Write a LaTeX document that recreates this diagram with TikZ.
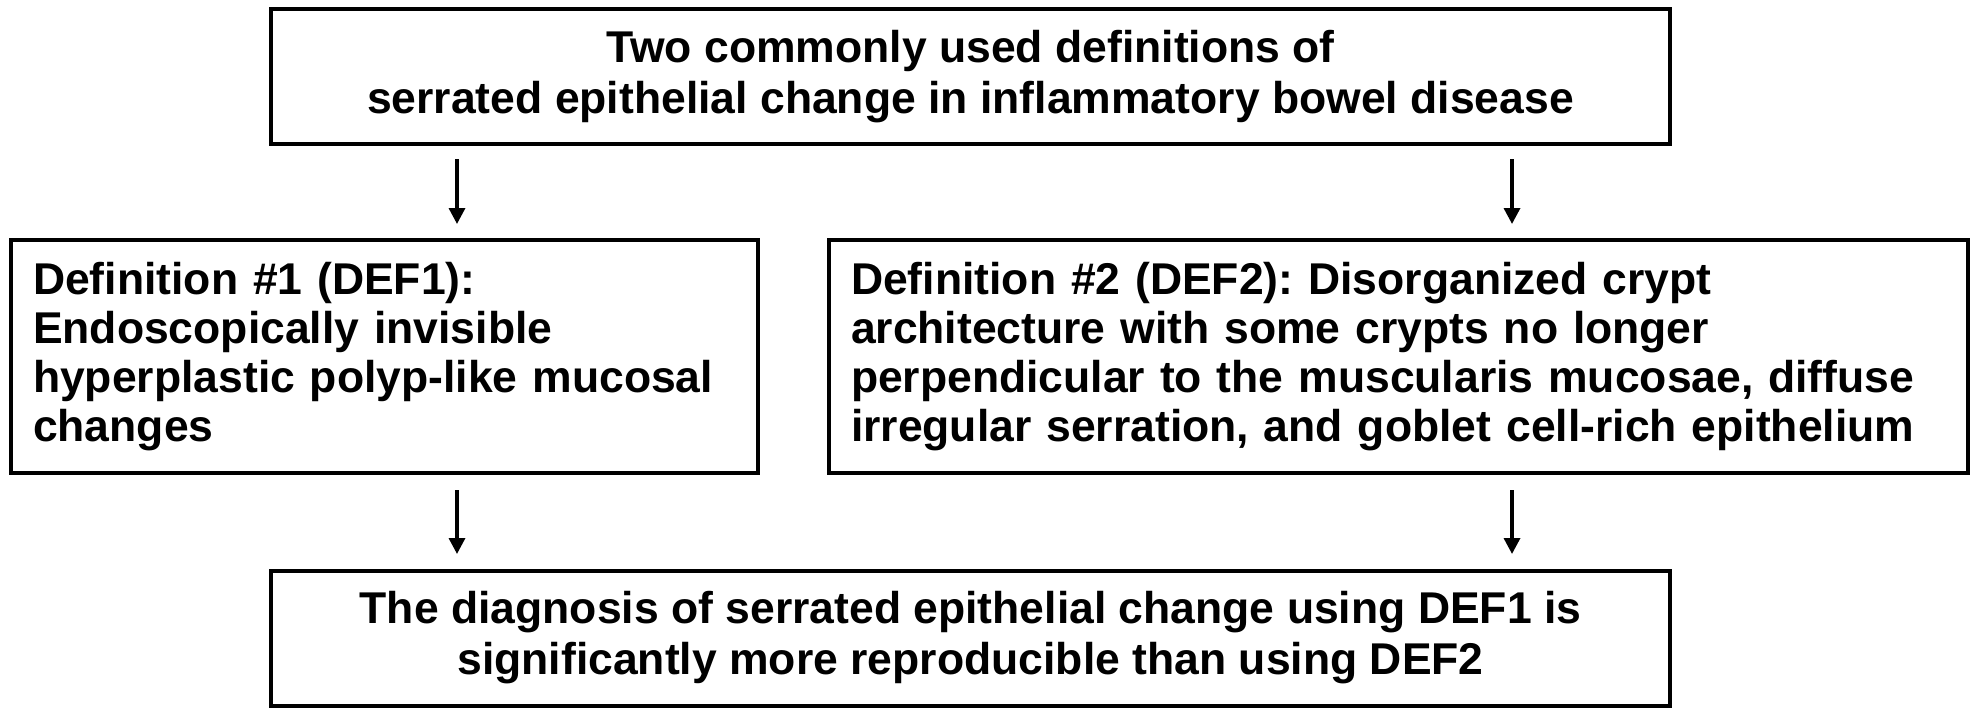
\documentclass[tikz,border=0pt]{standalone}
\usepackage{fontspec}
\setmainfont{Liberation Sans}
\frenchspacing
\usepackage{tikz}
\usetikzlibrary{arrows.meta}
\pgfdeclarelayer{nodelayer}
\pgfdeclarelayer{edgelayer}
\pgfsetlayers{edgelayer,nodelayer,main}
\tikzstyle{none}=[inner sep=0pt]
\tikzstyle{arrow}=[-{Triangle[length=8pt,width=8pt]}, line width=1.7pt]
\tikzset{box/.style={draw=black, line width=2pt, align=center, inner sep=0pt,
minimum width=699.5pt, minimum height=67.5pt,
font=\fontsize{22.25}{25.5}\selectfont\bfseries}}
\tikzset{defbox/.style={draw=black, line width=2pt, align=left, inner xsep=11pt, inner ysep=0pt,
text width=#1, minimum height=116.5pt,
font=\fontsize{22.25}{24.5}\selectfont\bfseries}}

\begin{document}
\begin{tikzpicture}[x=50pt, y=50pt]
	\useasboundingbox (0, 0) rectangle (19.79, -7.17);
	\begin{pgfonlayer}{nodelayer}
		\node [style=box] (0) at (9.705, -0.765) {Two commonly used definitions of\\serrated epithelial change in inflammatory bowel disease};
		\node [style={defbox=351.5pt}] (1) at (3.845, -3.565) {Definition \#1 (DEF1):\\Endoscopically invisible\\hyperplastic polyp-like mucosal\\changes};
		\node [style={defbox=547.5pt}] (2) at (13.985, -3.565) {Definition \#2 (DEF2): Disorganized crypt\\architecture with some crypts no longer\\perpendicular to the muscularis mucosae, diffuse\\irregular serration, and goblet cell-rich epithelium};
		\node [style=box] (3) at (9.705, -6.38) {The diagnosis of serrated epithelial change using DEF1 is\\significantly more reproducible than using DEF2};
		\node [style=none] (4) at (4.57, -1.59) {};
		\node [style=none] (5) at (4.57, -2.24) {};
		\node [style=none] (6) at (15.12, -1.59) {};
		\node [style=none] (7) at (15.12, -2.24) {};
		\node [style=none] (8) at (4.57, -4.90) {};
		\node [style=none] (9) at (4.57, -5.54) {};
		\node [style=none] (10) at (15.12, -4.90) {};
		\node [style=none] (11) at (15.12, -5.54) {};
	\end{pgfonlayer}
	\begin{pgfonlayer}{edgelayer}
		\draw [style=arrow] (4.center) to (5.center);
		\draw [style=arrow] (6.center) to (7.center);
		\draw [style=arrow] (8.center) to (9.center);
		\draw [style=arrow] (10.center) to (11.center);
	\end{pgfonlayer}
\end{tikzpicture}
\end{document}
